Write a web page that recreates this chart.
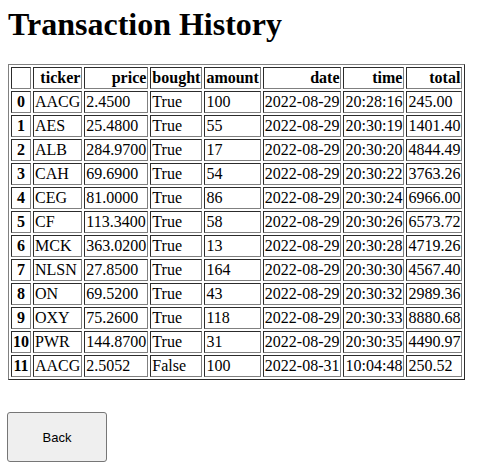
<!DOCTYPE html>
<html>
<head>
<meta charset="utf-8">
<script src="https://cdn.jsdelivr.net/npm/chart.js@4"></script>
<style>
  html, body { margin: 0; padding: 0; background: #fff; }
  body { font-family: "Liberation Serif", "Times New Roman", serif; font-size: 16px; color: #000; padding: 8px; }
  h1 { font-size: 32px; font-weight: bold; margin: -2px 0 21px 0; line-height: 37px; }
  table.dataframe { border-collapse: separate; border-spacing: 2px; }
  table.dataframe td, table.dataframe th { padding: 1px; }
  thead tr { text-align: right; }
  button.back { display: block; margin-top: 32px; width: 100px; height: 50px; font-family: "Liberation Sans", Arial, sans-serif; font-size: 13px;
    background: #efefef; border: 1px solid #767676; border-radius: 3px; color: #000; margin-left: -1px; }
</style>
</head>
<body>
<h1>Transaction History</h1>
<table border="1" class="dataframe" id="tbl"></table>
<button class="back">Back</button>
<script>
const columns = ["ticker", "price", "bought", "amount", "date", "time", "total"];
const tickers = ["AACG", "AES", "ALB", "CAH", "CEG", "CF", "MCK", "NLSN", "ON", "OXY", "PWR", "AACG"];
const prices = ["2.4500", "25.4800", "284.9700", "69.6900", "81.0000", "113.3400", "363.0200", "27.8500", "69.5200", "75.2600", "144.8700", "2.5052"];
const bought = ["True", "True", "True", "True", "True", "True", "True", "True", "True", "True", "True", "False"];
const amounts = ["100", "55", "17", "54", "86", "58", "13", "164", "43", "118", "31", "100"];
const dates = ["2022-08-29", "2022-08-29", "2022-08-29", "2022-08-29", "2022-08-29", "2022-08-29", "2022-08-29", "2022-08-29", "2022-08-29", "2022-08-29", "2022-08-29", "2022-08-31"];
const times = ["20:28:16", "20:30:19", "20:30:20", "20:30:22", "20:30:24", "20:30:26", "20:30:28", "20:30:30", "20:30:32", "20:30:33", "20:30:35", "10:04:48"];
const totals = ["245.00", "1401.40", "4844.49", "3763.26", "6966.00", "6573.72", "4719.26", "4567.40", "2989.36", "8880.68", "4490.97", "250.52"];

const tbl = document.getElementById("tbl");
const thead = document.createElement("thead");
const htr = document.createElement("tr");
htr.appendChild(document.createElement("th"));
columns.forEach(c => { const th = document.createElement("th"); th.textContent = c; htr.appendChild(th); });
thead.appendChild(htr);
tbl.appendChild(thead);
const tbody = document.createElement("tbody");
tickers.forEach((t, i) => {
  const tr = document.createElement("tr");
  const th = document.createElement("th"); th.textContent = String(i); tr.appendChild(th);
  [t, prices[i], bought[i], amounts[i], dates[i], times[i], totals[i]].forEach(v => {
    const td = document.createElement("td"); td.textContent = v; tr.appendChild(td);
  });
  tbody.appendChild(tr);
});
tbl.appendChild(tbody);
</script>
</body>
</html>
